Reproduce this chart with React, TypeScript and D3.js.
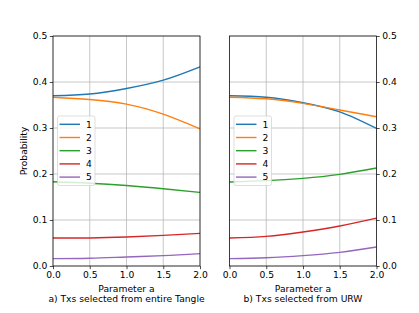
import React, { useEffect, useRef } from 'react'
import * as d3 from 'd3'

const paramA = [0, 0.5, 1.0, 1.5, 2.0]
const seriesNames = ['1', '2', '3', '4', '5']
const colors = ['#1f77b4', '#ff7f0e', '#2ca02c', '#d62728', '#9467bd']

// a) Txs selected from entire Tangle
const tangle1 = [0.370, 0.374, 0.386, 0.404, 0.433]
const tangle2 = [0.367, 0.362, 0.352, 0.330, 0.298]
const tangle3 = [0.183, 0.180, 0.175, 0.168, 0.160]
const tangle4 = [0.061, 0.061, 0.063, 0.0665, 0.071]
const tangle5 = [0.016, 0.0167, 0.0196, 0.0225, 0.0268]

// b) Txs selected from URW
const urw1 = [0.370, 0.367, 0.355, 0.335, 0.299]
const urw2 = [0.367, 0.3635, 0.3535, 0.339, 0.3245]
const urw3 = [0.1826, 0.1855, 0.1906, 0.1993, 0.213]
const urw4 = [0.061, 0.0645, 0.074, 0.087, 0.104]
const urw5 = [0.016, 0.018, 0.0225, 0.0297, 0.0413]

const xTicks = [0, 0.5, 1.0, 1.5, 2.0]
const yTicks = [0, 0.1, 0.2, 0.3, 0.4, 0.5]

const panels = [
  { series: [tangle1, tangle2, tangle3, tangle4, tangle5], left: 53, caption: 'a) Txs selected from entire Tangle', side: 'left' },
  { series: [urw1, urw2, urw3, urw4, urw5], left: 229.5, caption: 'b) Txs selected from URW', side: 'right' },
]

function App() {
  const ref = useRef<SVGSVGElement>(null)

  useEffect(() => {
    const svg = d3.select(ref.current)
    svg.selectAll('*').remove()
    const width = 147
    const top = 36
    const height = 230
    const font = 'DejaVu Sans, sans-serif'
    const fs = 9.2

    svg.append('rect').attr('width', 419).attr('height', 313).attr('fill', '#fff')

    panels.forEach(panel => {
      const x = d3.scaleLinear().domain([0, 2]).range([0, width])
      const y = d3.scaleLinear().domain([0, 0.5]).range([height, 0])
      const g = svg.append('g').attr('transform', `translate(${panel.left}, ${top})`)

      // grid
      g.selectAll('.gx')
        .data(xTicks)
        .enter()
        .append('line')
        .attr('x1', d => x(d))
        .attr('x2', d => x(d))
        .attr('y1', 0)
        .attr('y2', height)
        .attr('stroke', '#b0b0b0')
        .attr('stroke-width', 0.7)
      g.selectAll('.gy')
        .data(yTicks)
        .enter()
        .append('line')
        .attr('x1', 0)
        .attr('x2', width)
        .attr('y1', d => y(d))
        .attr('y2', d => y(d))
        .attr('stroke', '#b0b0b0')
        .attr('stroke-width', 0.7)

      // lines
      const line = d3
        .line<number>()
        .x((d, i) => x(paramA[i]))
        .y(d => y(d))
        .curve(d3.curveNatural)
      g.selectAll('.series')
        .data(panel.series)
        .enter()
        .append('path')
        .attr('d', d => line(d))
        .attr('fill', 'none')
        .attr('stroke', (d, i) => colors[i])
        .attr('stroke-width', 1.4)

      // frame
      g.append('rect')
        .attr('width', width)
        .attr('height', height)
        .attr('fill', 'none')
        .attr('stroke', '#000')
        .attr('stroke-width', 0.7)

      // x axis
      const xAxis = g
        .append('g')
        .attr('transform', `translate(0, ${height})`)
        .call(d3.axisBottom(x).tickValues(xTicks).tickFormat(d3.format('.1f')).tickSize(3.2).tickPadding(2.5))
      // y axis
      const yAxisGen =
        panel.side === 'left'
          ? d3.axisLeft(y).tickValues(yTicks).tickFormat(d3.format('.1f')).tickSize(3.2).tickPadding(2.5)
          : d3.axisRight(y).tickValues(yTicks).tickFormat(d3.format('.1f')).tickSize(3.2).tickPadding(2.5)
      const yAxis = g
        .append('g')
        .attr('transform', `translate(${panel.side === 'left' ? 0 : width}, 0)`)
        .call(yAxisGen)
      ;[xAxis, yAxis].forEach(a => {
        a.select('.domain').remove()
        a.selectAll('line').attr('stroke', '#000').attr('stroke-width', 0.7)
        a.selectAll('text').attr('font-family', font).attr('font-size', fs).attr('fill', '#000')
      })

      g.append('text')
        .attr('x', width / 2)
        .attr('y', height + 26)
        .attr('text-anchor', 'middle')
        .attr('font-family', font)
        .attr('font-size', fs)
        .text('Parameter a')
      g.append('text')
        .attr('x', width / 2)
        .attr('y', height + 36)
        .attr('text-anchor', 'middle')
        .attr('font-family', font)
        .attr('font-size', fs)
        .text(panel.caption)

      if (panel.side === 'left') {
        g.append('text')
          .attr('transform', `translate(-26, ${height / 2}) rotate(-90)`)
          .attr('text-anchor', 'middle')
          .attr('font-family', font)
          .attr('font-size', fs)
          .text('Probability')
      }

      // legend
      const lg = g.append('g').attr('transform', 'translate(4.5, 80)')
      lg.append('rect')
        .attr('width', 37.5)
        .attr('height', 69.5)
        .attr('rx', 2)
        .attr('fill', '#fff')
        .attr('fill-opacity', 0.8)
        .attr('stroke', '#d0d0d0')
        .attr('stroke-width', 0.7)
      seriesNames.forEach((name, i) => {
        const ly = 8.3 + i * 13.2
        lg.append('line')
          .attr('x1', 2)
          .attr('x2', 22.5)
          .attr('y1', ly)
          .attr('y2', ly)
          .attr('stroke', colors[i])
          .attr('stroke-width', 1.4)
        lg.append('text')
          .attr('x', 28.5)
          .attr('y', ly)
          .attr('dy', '0.35em')
          .attr('font-family', font)
          .attr('font-size', fs)
          .text(name)
      })
    })
  }, [])

  return (
    <svg ref={ref} width={419} height={313} style={{ position: 'absolute', left: 0, top: 0 }} />
  )
}

export default App
